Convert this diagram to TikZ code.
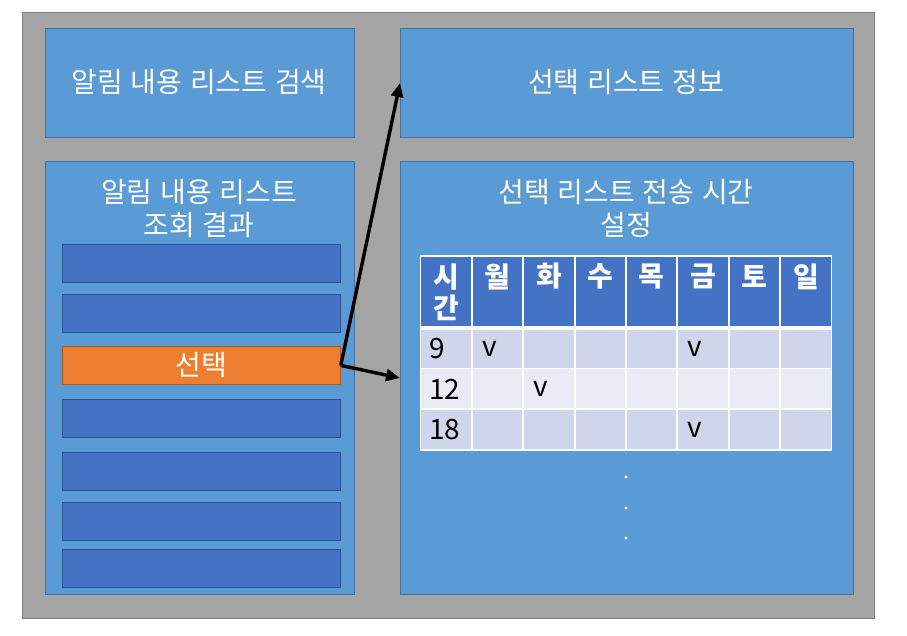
\documentclass[tikz,border=0pt]{standalone}
\usepackage{fontspec}
\setmainfont{Noto Sans CJK KR}[WordSpace=1.25]
\usetikzlibrary{arrows.meta}
\definecolor{bgray}{HTML}{A5A5A5}
\definecolor{bgrayline}{HTML}{7F7F7F}
\definecolor{bblue}{HTML}{5B9BD5}
\definecolor{bblueline}{HTML}{41719C}
\definecolor{dblue}{HTML}{4472C4}
\definecolor{dblueline}{HTML}{2F528F}
\definecolor{orng}{HTML}{ED7D31}
\definecolor{orngline}{HTML}{AE5A21}
\definecolor{rowa}{HTML}{CFD5EA}
\definecolor{rowb}{HTML}{E9EBF5}
\tikzset{
  panel/.style={draw=bblueline, fill=bblue, line width=1pt, anchor=north west, inner sep=0pt},
  item/.style={draw=dblueline, fill=dblue, line width=0.8pt, anchor=north west, inner sep=0pt, minimum width=278pt, minimum height=38pt},
  wtext/.style={text=white, font=\fontsize{28}{33}\selectfont, align=center, inner sep=0pt},
  htext/.style={text=white, font=\fontsize{28}{31}\selectfont\bfseries, align=center, inner sep=0pt},
  btext/.style={text=black, font=\fontsize{28}{31}\selectfont, inner sep=0pt, anchor=west},
  arr/.style={line width=3.4pt, -{Triangle[length=14pt,width=12pt]}},
  dot/.style={circle, fill=white, inner sep=0pt, minimum size=3.4pt}
}
\begin{document}
\begin{tikzpicture}[x=1pt,y=-1pt]
\useasboundingbox (0,0) rectangle (907,636);
\node[draw=bgrayline, fill=bgray, line width=1.3pt, anchor=north west, inner sep=0pt, minimum width=852pt, minimum height=606pt] (outer) at (22,12) {};
% panels
\node[panel, minimum width=309pt, minimum height=109pt] (search) at (45,28) {};
\node[panel, minimum width=453pt, minimum height=109pt] (info) at (400,28) {};
\node[panel, minimum width=309pt, minimum height=433pt] (result) at (45,161) {};
\node[panel, minimum width=453pt, minimum height=433pt] (setbox) at (400,161) {};
\node[wtext] (tsearch) at (199,82) {알림 내용 리스트 검색};
\node[wtext] (tinfo) at (626,82) {선택 리스트 정보};
\node[wtext] (tresult) at (199,209) {알림 내용 리스트\\조회 결과};
\node[wtext] (tset) at (626,209) {선택 리스트 전송 시간\\설정};
% list items
\node[item] (i1) at (62,244) {};
\node[item] (i2) at (62,294) {};
\node[item, fill=orng, draw=orngline] (sel) at (62,346) {};
\node[wtext] (tsel) at (sel.center) {선택};
\node[item] (i4) at (62,399) {};
\node[item] (i5) at (62,452) {};
\node[item] (i6) at (62,502) {};
\node[item] (i7) at (62,549) {};
% table
\fill[white] (420,255) rectangle (832,451);
\foreach \a/\b [count=\c] in {420/472,472/523,523/575,575/626,626/677,677/729,729/780,780/832}{
  \node[fill=dblue, anchor=north west, inner sep=0pt, minimum width={\b-\a-2}, minimum height=69pt] (h\c) at (\a+1,257) {};
  \node[fill=rowa, anchor=north west, inner sep=0pt, minimum width={\b-\a-2}, minimum height=38pt] (ra\c) at (\a+1,330) {};
  \node[fill=rowb, anchor=north west, inner sep=0pt, minimum width={\b-\a-2}, minimum height=39pt] (rb\c) at (\a+1,369) {};
  \node[fill=rowa, anchor=north west, inner sep=0pt, minimum width={\b-\a-2}, minimum height=39pt] (rc\c) at (\a+1,410) {};
}
\node[htext] (hl1) at (446,292) {시\\간};
\foreach \c/\t in {2/월,3/화,4/수,5/목,6/금,7/토,8/일}{
  \node[htext] (hl\c) at ([yshift=-19.5pt]h\c.north) {\t};
}
\node[btext] (n9) at (429,349) {9};
\node[btext] (n12) at (429,389) {12};
\node[btext] (n18) at (429,430) {18};
\node[btext] (v1) at ([xshift=9pt]ra2.west) {v};
\node[btext] (v2) at ([xshift=9pt]ra6.west) {v};
\node[btext] (v3) at ([xshift=9pt]rb3.west) {v};
\node[btext] (v4) at ([xshift=9pt]rc6.west) {v};
% dots
\node[dot] (d1) at (626,477) {};
\node[dot] (d2) at (626,508) {};
\node[dot] (d3) at (626,538) {};
% arrows
\coordinate (t2) at (400,378);
\draw[arr] (sel.east) -- (info.west);
\draw[arr] (sel.east) -- (t2);
\end{tikzpicture}
\end{document}
